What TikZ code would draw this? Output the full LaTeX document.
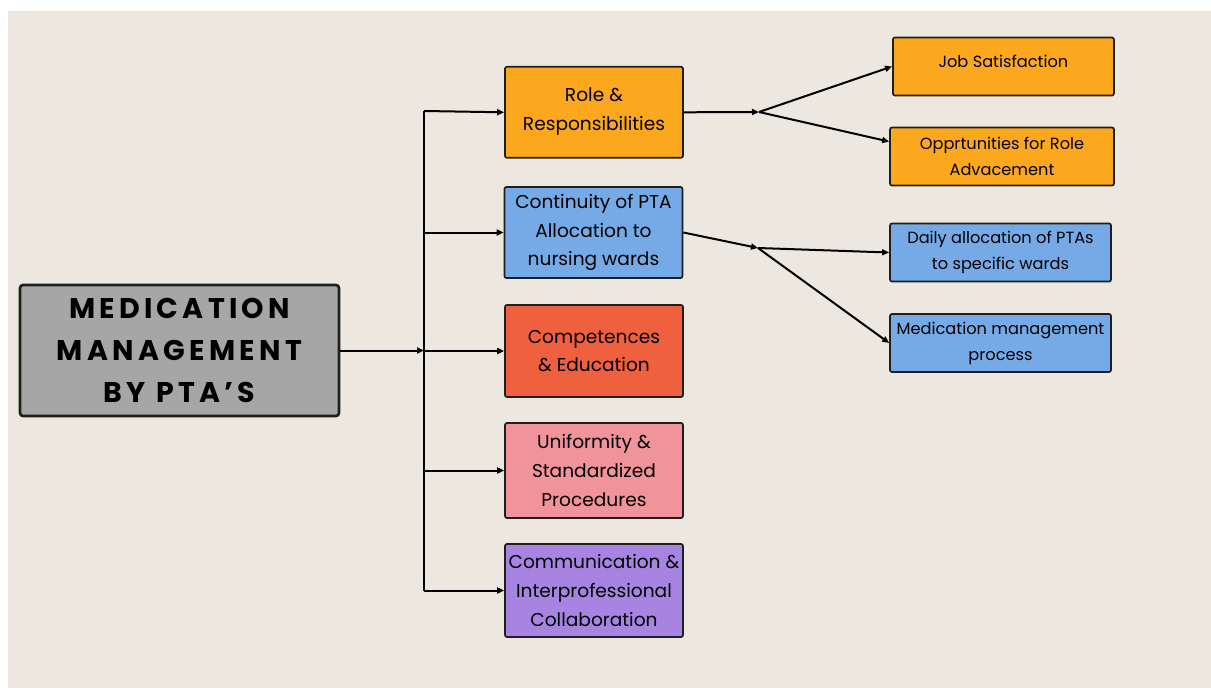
\documentclass[tikz,border=0pt]{standalone}
\usepackage{fontspec}
\setmainfont{Poppins}
\newfontfamily\titlefont[LetterSpace=15]{Poppins}
\usetikzlibrary{arrows.meta,calc}
\definecolor{bg}{HTML}{ECE8E0}
\definecolor{mgray}{HTML}{A6A6A6}
\definecolor{orng}{HTML}{FCA81E}
\definecolor{blu}{HTML}{76AAE6}
\definecolor{redo}{HTML}{EE603E}
\definecolor{pnk}{HTML}{F0939A}
\definecolor{prpl}{HTML}{A784E2}
\definecolor{edge}{HTML}{1E1E1E}
\tikzset{
  box/.style={draw=edge, line width=1.7pt, rounded corners=2pt, inner sep=0pt, align=center},
  midbox/.style={box, minimum width=178pt, font=\fontsize{18.6}{28.7}\selectfont},
  rbox/.style={box, font=\fontsize{16.2}{26}\selectfont},
  conn/.style={draw=black, line width=2pt, -{Triangle[length=7pt,width=6pt]}},
  plain/.style={draw=black, line width=2pt}
}
\begin{document}
\begin{tikzpicture}[x=1pt,y=-1pt]
\useasboundingbox (0,0) rectangle (1211,688);
\fill[white] (0,0) rectangle (1211,688);
\fill[bg] (8,11) rectangle (1211,688);

\node[box, fill=mgray, line width=2.6pt, rounded corners=3pt, minimum width=319pt, minimum height=131pt,
      font=\titlefont\bfseries\fontsize{28.5}{42}\selectfont] (main) at (179.5,350.5)
      {MEDICATION\\MANAGEMENT\\BY PTA’S};

\node[midbox, fill=orng, minimum height=91pt, text depth=6pt] (role) at (594,112.3) {Role \&\\Responsibilities};
\node[midbox, fill=blu, minimum height=91pt] (cont) at (593.5,232.5) {Continuity of PTA\\Allocation to\\nursing wards};
\node[midbox, fill=redo, minimum height=92pt] (comp) at (594,351) {Competences\\\& Education};
\node[midbox, fill=pnk, minimum height=95pt] (unif) at (594,470.5) {Uniformity \&\\Standardized\\Procedures};
\node[midbox, fill=prpl, minimum height=93pt] (comm) at (594,590.5) {Communication \&\\Interprofessional\\Collaboration};

\node[rbox, fill=orng, minimum width=221pt, minimum height=58pt, text depth=10pt] (job) at (1003.4,66.5) {Job Satisfaction};
\node[rbox, fill=orng, minimum width=224pt, minimum height=58pt] (opp) at (1002,156.5) {Opprtunities for Role\\Advacement};
\node[rbox, fill=blu, minimum width=221pt, minimum height=58pt] (daily) at (1000.5,252.5) {Daily allocation of PTAs\\to specific wards};
\node[rbox, fill=blu, minimum width=221pt, minimum height=58pt] (medp) at (1000.5,343) {Medication management\\process};

\coordinate (tT) at (424,111);
\coordinate (tB) at (424,590.5);
\draw[plain] (tT) -- (tB);
\draw[conn] (main.east) -- (main.east -| tT);
\draw[conn] (tT) -- (role.west);
\draw[conn] (cont.west -| tT) -- (cont.west);
\draw[conn] (comp.west -| tT) -- (comp.west);
\draw[conn] (unif.west -| tT) -- (unif.west);
\draw[conn] (comm.west -| tT) -- (comm.west);

\coordinate (b1) at (759,112);
\coordinate (b2) at (758,248);
\draw[conn] (role.east) -- (b1);
\draw[conn] (b1) -- (job.west);
\draw[conn] (b1) -- ($(opp.north west)!0.25!(opp.south west)$);
\draw[conn] (cont.east) -- (b2);
\draw[conn] (b2) -- (daily.west);
\draw[conn] (b2) -- (medp.west);
\end{tikzpicture}
\end{document}
